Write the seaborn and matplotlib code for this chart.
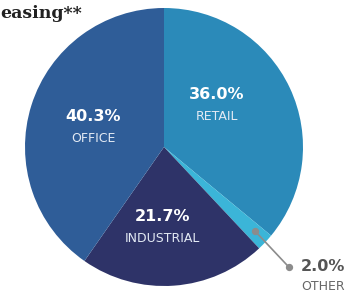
import seaborn as sns
import matplotlib.pyplot as plt
import numpy as np

# Data
categories = ['RETAIL', 'OTHER', 'INDUSTRIAL', 'OFFICE']
shares = [36.0, 2.0, 21.7, 40.3]
colors = ['#2B8AB9', '#3BB5D8', '#2E3368', '#2F5D98']

sns.set_theme(style="white")
plt.rcParams['font.family'] = ['DejaVu Sans']

fig = plt.figure(figsize=(3.48, 2.92), dpi=100)
ax = fig.add_axes([25 / 348, 6 / 292, 278 / 348, 278 / 292])

wedges, _ = ax.pie(shares, colors=colors, startangle=90, counterclock=False,
                   radius=1, wedgeprops=dict(linewidth=0))
ax.set_xlim(-1, 1)
ax.set_ylim(-1, 1)
ax.set_aspect('auto')
ax.axis('off')

# label spots inside the wedges (x, y) in axes data units
label_pos = {'RETAIL': (0.38, 0.38), 'INDUSTRIAL': (-0.01, -0.50), 'OFFICE': (-0.51, 0.22)}
for cat, val in zip(categories, shares):
    if cat in label_pos:
        x, y = label_pos[cat]
        ax.text(x, y, f'{val:.1f}%', color='white', fontsize=11.5, fontweight='bold',
                ha='center', va='center')
        ax.text(x, y - 0.16, cat, color='#E3EAF4', fontsize=9,
                ha='center', va='center')

# leader line for the small slice
w = wedges[1]
mid = np.deg2rad((w.theta1 + w.theta2) / 2)
p1 = (0.9 * np.cos(mid), 0.9 * np.sin(mid) + 0.01)
p2 = (1.23 * np.cos(mid), 1.23 * np.sin(mid) - 0.02)
ax.plot([p1[0], p2[0]], [p1[1], p2[1]], color='#8C8C8C', lw=1.2, clip_on=False)
ax.scatter([p1[0], p2[0]], [p1[1], p2[1]], s=18, color='#8C8C8C', zorder=5, clip_on=False)
ax.text(1.145, p2[1], f'{shares[1]:.1f}%', color='#555555', fontsize=11.5, fontweight='bold',
        ha='center', va='center', clip_on=False)
ax.text(1.145, p2[1] - 0.145, categories[1], color='#666666', fontsize=9,
        ha='center', va='center', clip_on=False)

fig.text(0.002, 0.955, 'easing**', family=['DejaVu Serif'], fontsize=12.5,
         fontweight='bold', color='#222222', ha='left', va='center')

fig.savefig('out.png', dpi=100)
